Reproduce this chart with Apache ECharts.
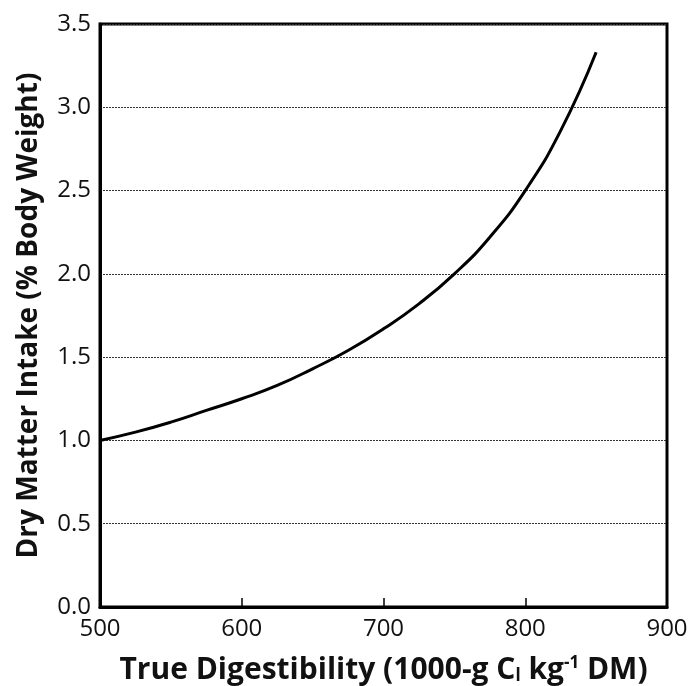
<!DOCTYPE html>
<html><head><meta charset="utf-8">
<script src="https://cdn.jsdelivr.net/npm/echarts@6/dist/echarts.min.js"></script>
<style>html,body{margin:0;padding:0;background:#fff}#c{width:688px;height:686px}</style>
</head><body><div id="c"></div>
<script>
const digestibility = [500,525,550,575,600,625,650,675,700,725,750,775,800,825,850];
const intake = [1.00,1.05,1.11,1.18,1.25,1.33,1.43,1.54,1.67,1.82,2.00,2.22,2.50,2.86,3.33];
const xTicks = [500,600,700,800,900];
const yTicks = [0,0.5,1.0,1.5,2.0,2.5,3.0,3.5];

const chart = echarts.init(document.getElementById('c'));
chart.setOption({
  animation:false,
  grid:{left:100,right:21,top:24,bottom:79,containLabel:false,outerBoundsMode:'none',show:true,borderColor:'#000',borderWidth:3,backgroundColor:'transparent'},
  xAxis:{type:'value',min:500,max:900,interval:100,
    axisLine:{show:true,lineStyle:{color:'#000',width:3}},
    axisTick:{show:true,inside:true,length:9,lineStyle:{color:'#000',width:1.5}},
    splitLine:{show:false},
    axisLabel:{fontFamily:'Open Sans',fontSize:24,color:'#111',margin:10},
    name:'True Digestibility (1000-g C{sub|l} kg{sup|-1} DM)',
    nameLocation:'middle',nameGap:48,
    nameTextStyle:{fontFamily:'Open Sans',fontWeight:'bold',fontSize:30,color:'#111',
      rich:{sub:{fontFamily:'Open Sans',fontWeight:'bold',fontSize:17,color:'#111',verticalAlign:'bottom',padding:[12,0,0,0]},
            sup:{fontFamily:'Open Sans',fontWeight:'bold',fontSize:17,color:'#111',verticalAlign:'top',padding:[0,0,12,0]}}}
  },
  yAxis:{type:'value',min:0,max:3.5,interval:0.5,
    axisLine:{show:true,lineStyle:{color:'#000',width:3}},
    axisTick:{show:false},
    splitLine:{show:true,lineStyle:{color:'#333',width:1,type:[2,1]}},
    axisLabel:{fontFamily:'Open Sans',fontSize:24,color:'#111',margin:9,formatter:v=>v.toFixed(1)},
    name:'Dry Matter Intake (% Body Weight)',
    nameLocation:'middle',nameGap:57,
    nameTextStyle:{fontFamily:'Open Sans',fontWeight:'bold',fontSize:28,color:'#111'}
  },
  series:[{type:'line',data:digestibility.map((x,i)=>[x,intake[i]]),smooth:true,showSymbol:false,
    lineStyle:{color:'#000',width:3}}]
});
</script></body></html>
